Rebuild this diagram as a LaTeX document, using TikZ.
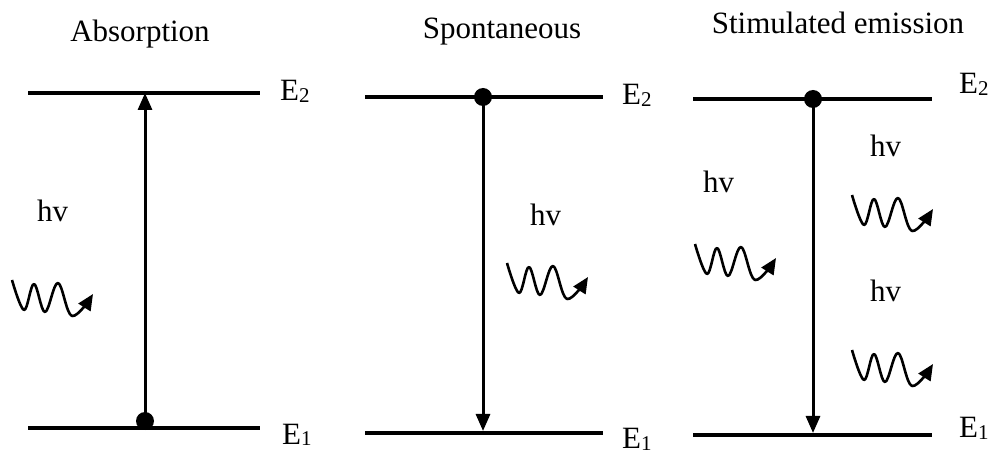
\documentclass[tikz,border=0pt]{standalone}
\usepackage{fontspec}
\setmainfont{Liberation Serif}
\usetikzlibrary{arrows.meta}
\newcommand{\lev}[1]{E{\fontsize{21}{21}\selectfont\raisebox{-1.5pt}{#1}}}
\tikzset{
  level/.style={line width=3.4pt},
  trans/.style={line width=3pt,-{Triangle[length=17pt,width=14pt]}},
  lbl/.style={font=\fontsize{31}{34}\selectfont,inner sep=0pt,anchor=base west},
  ttl/.style={font=\fontsize{31}{34}\selectfont,inner sep=0pt,anchor=base},
  elec/.style={circle,fill=black,inner sep=0pt,minimum size=18pt},
  wave/.pic={\draw[line width=2.6pt,line join=round,-{Triangle[length=16pt,width=14pt]}]
     plot[smooth,tension=0.6] coordinates {(0,0) (12,30) (22,4) (33,32) (46,3) (60,36) (81,14)};}
}
\begin{document}
\begin{tikzpicture}[x=1pt,y=-1pt]
\useasboundingbox (0,0) rectangle (1002,454);
% ---- Absorption
\coordinate (a2l) at (28,93); \coordinate (a2r) at (260,93);
\coordinate (a1l) at (28,428); \coordinate (a1r) at (260,428);
\coordinate (a2m) at (145,93);
\draw[level] (a2l) -- (a2r);
\draw[level] (a1l) -- (a1r);
\node[elec] (ad) at (145,421) {};
\draw[trans] (ad.center) -- (a2m);
\node[ttl] (at) at (140,42) {Absorption};
\node[lbl] (ae2) at (280,101) {\lev{2}};
\node[lbl] (ae1) at (282,444) {\lev{1}};
\node[lbl] (ahv) at (37,222) {hv};
\pic at (12,280) {wave};
% ---- Spontaneous
\coordinate (b2l) at (365,97); \coordinate (b2r) at (603,97);
\coordinate (b1l) at (365,433); \coordinate (b1r) at (603,433);
\coordinate (b1m) at (483,431);
\draw[level] (b2l) -- (b2r);
\draw[level] (b1l) -- (b1r);
\node[elec] (bd) at (483,97) {};
\draw[trans] (bd.center) -- (b1m);
\node[ttl] (bt) at (502,39) {Spontaneous};
\node[lbl] (be2) at (622,105) {\lev{2}};
\node[lbl] (be1) at (622,449) {\lev{1}};
\node[lbl] (bhv) at (530,226) {hv};
\pic at (507,263) {wave};
% ---- Stimulated emission
\coordinate (c2l) at (693,99); \coordinate (c2r) at (932,99);
\coordinate (c1l) at (693,435); \coordinate (c1r) at (932,435);
\coordinate (c1m) at (813,433);
\draw[level] (c2l) -- (c2r);
\draw[level] (c1l) -- (c1r);
\node[elec] (cd) at (813,99) {};
\draw[trans] (cd.center) -- (c1m);
\node[ttl] (ct) at (838,34) {Stimulated emission};
\node[lbl] (ce2) at (959,94) {\lev{2}};
\node[lbl] (ce1) at (959,438) {\lev{1}};
\node[lbl] (chv1) at (703,193) {hv};
\node[lbl] (chv2) at (870,157) {hv};
\node[lbl] (chv3) at (870,302) {hv};
\pic at (695,244) {wave};
\pic at (852,195) {wave};
\pic at (852,350) {wave};
\end{tikzpicture}
\end{document}
